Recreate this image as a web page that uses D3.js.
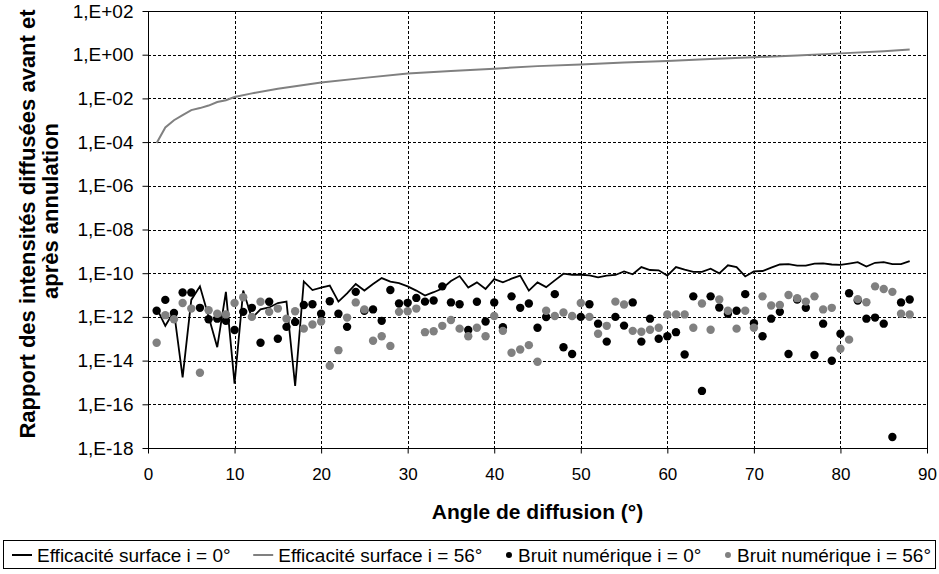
<!DOCTYPE html>
<html><head><meta charset="utf-8">
<script src="https://cdn.jsdelivr.net/npm/d3@7"></script>
<style>body{margin:0;background:#fff;} text{font-family:"Liberation Sans",Arial,sans-serif;}</style>
</head><body><svg id="c" width="939" height="574"></svg>
<script>
// ---- data ----
const angles = d3.range(1, 89);
const effSurf0 = [2.5e-12,3.9e-13,1.8e-12,1.7e-15,6.0e-12,2.5e-11,1.05e-12,4.1e-14,1.4e-11,8.9e-16,
1.6e-11,8.7e-13,2.2e-12,2.7e-12,4.3e-12,5.0e-12,6.9e-16,4.2e-11,1.7e-11,2.2e-11,
2.7e-11,5.0e-12,1.2e-11,3.2e-11,1.6e-11,3.2e-11,6.0e-11,4.1e-11,3.5e-11,2.5e-11,
1.6e-11,9.5e-12,1.35e-11,2.0e-11,4.4e-11,7.4e-11,2.2e-11,3.8e-11,1.9e-11,5.4e-11,
3.8e-11,5.6e-11,7.8e-11,1.6e-11,3.8e-11,2.3e-11,4.7e-11,9.5e-11,8.5e-11,8.5e-11,
7.9e-11,6.5e-11,7.8e-11,8.3e-11,1.2e-10,8.9e-11,1.9e-10,1.4e-10,1.35e-10,7.8e-11,
1.9e-10,1.45e-10,1.15e-10,1.15e-10,1.6e-10,9.8e-11,2.3e-10,1.9e-10,7.1e-11,1.2e-10,
1.26e-10,1.8e-10,2.5e-10,2.6e-10,2.2e-10,2.2e-10,2.75e-10,2.8e-10,2.5e-10,2.4e-10,
2.75e-10,3.2e-10,2.0e-10,3.0e-10,3.2e-10,2.6e-10,2.6e-10,3.6e-10];
const eff56Angles = [1,2,3,4,5,6,7,8,9,10,12,15,20,25,30,35,40,45,50,55,60,65,70,75,80,85,88];
const effSurf56 = [9.1e-5,4.7e-4,1.0e-3,1.7e-3,2.9e-3,3.6e-3,4.7e-3,6.8e-3,8.3e-3,1.15e-2,
1.7e-2,2.75e-2,5.4e-2,8.7e-2,0.138,0.18,0.23,0.30,0.36,0.44,0.52,0.63,0.76,0.93,1.15,1.45,1.74];
const bruit0 = [1.9e-12,6.0e-12,1.5e-12,1.3e-11,1.3e-11,2.6e-12,7.8e-13,8.3e-13,6.6e-13,2.5e-13,
1.7e-12,2.6e-12,6.6e-14,4.9e-12,1.0e-13,3.5e-13,5.9e-13,3.5e-12,3.8e-12,1.4e-12,
5.2e-12,1.4e-12,3.5e-13,1.4e-11,1.9e-12,2.2e-12,6.6e-13,1.7e-11,4.1e-12,4.4e-12,
7.4e-12,5.0e-12,5.6e-12,2.5e-11,4.6e-12,3.8e-12,2.5e-13,4.9e-12,6.2e-13,4.6e-12,
3.4e-13,8.7e-12,2.6e-12,4.1e-12,3.2e-13,9.8e-13,1.1e-11,4.1e-14,2.0e-14,1.0e-12,
3.8e-12,4.9e-13,7.4e-14,1.0e-12,4.0e-13,4.6e-12,7.4e-14,8.3e-13,1.0e-13,1.3e-13,
2.0e-13,1.9e-14,8.7e-12,4.1e-16,8.7e-12,2.7e-12,1.4e-12,1.9e-12,1.1e-11,5.1e-13,
1.3e-13,8.3e-13,1.7e-12,2.0e-14,6.3e-12,2.6e-12,1.8e-14,4.9e-13,9.8e-15,1.7e-13,
1.2e-11,5.6e-12,8.3e-13,9.3e-13,4.9e-13,3.2e-18,4.6e-12,6.3e-12];
const bruit56 = [6.6e-14,1.2e-12,7.8e-13,4.3e-12,2.4e-12,2.8e-15,2.0e-12,1.4e-12,1.3e-12,4.3e-12,
7.9e-12,1.0e-12,4.9e-12,1.7e-12,2.4e-12,8.3e-13,1.8e-12,2.9e-13,4.5e-13,6.2e-13,
5.8e-15,3.0e-14,9.3e-13,4.6e-12,2.2e-12,8.1e-14,1.3e-13,4.7e-14,1.7e-12,1.8e-12,
2.4e-12,2.0e-13,2.2e-13,3.9e-13,7.2e-13,2.9e-13,1.3e-13,3.2e-13,1.3e-13,1.1e-12,
2.3e-13,2.3e-14,3.2e-14,5.1e-14,8.9e-15,1.9e-12,1.1e-12,1.6e-12,1.1e-12,4.3e-12,
1.0e-12,1.7e-13,3.9e-13,5.0e-12,3.7e-12,2.3e-13,2.1e-13,2.6e-13,3.2e-13,1.3e-12,
1.3e-12,1.3e-12,3.2e-13,4.1e-12,2.6e-13,6.3e-12,1.9e-12,2.9e-13,1.9e-12,3.2e-13,
8.7e-12,3.3e-12,3.5e-12,1.0e-11,7.2e-12,5.0e-12,8.7e-12,2.2e-12,2.6e-12,3.5e-14,
9.1e-14,6.5e-12,4.7e-12,2.5e-11,1.9e-11,1.4e-11,1.4e-12,1.3e-12];
const xTicks = [0,10,20,30,40,50,60,70,80,90];
const yTickExps = [2,0,-2,-4,-6,-8,-10,-12,-14,-16,-18];
const yTickLabels = ["1,E+02","1,E+00","1,E-02","1,E-04","1,E-06","1,E-08","1,E-10","1,E-12","1,E-14","1,E-16","1,E-18"];
const legendLabels = ["Efficacité surface i = 0°","Efficacité surface i = 56°","Bruit numérique i = 0°","Bruit numérique i = 56°"];

// ---- layout ----
const svg = d3.select("#c");
const L = 148, R = 927, T = 11, B = 448;
const x = d3.scaleLinear().domain([0, 90]).range([L, R]);
const y = d3.scaleLog().domain([1e-18, 1e2]).range([B, T]);
const yTickVals = yTickExps.map(e => Math.pow(10, e));

// gridlines
svg.append("g").selectAll("line").data(yTickVals.slice(1, -1)).join("line")
  .attr("x1", L).attr("x2", R).attr("y1", d => Math.round(y(d)) + 0.5).attr("y2", d => Math.round(y(d)) + 0.5)
  .attr("stroke", "#000").attr("stroke-width", 1).attr("stroke-dasharray", "3,2");
svg.append("g").selectAll("line").data(xTicks.slice(1, -1)).join("line")
  .attr("x1", d => Math.round(x(d)) + 0.5).attr("x2", d => Math.round(x(d)) + 0.5).attr("y1", T).attr("y2", B)
  .attr("stroke", "#000").attr("stroke-width", 1).attr("stroke-dasharray", "3,2");

// frame
svg.append("rect").attr("x", L + 0.5).attr("y", T + 0.5).attr("width", R - L).attr("height", B - T)
  .attr("fill", "none").attr("stroke", "#000").attr("stroke-width", 1);

// axes
const yAxis = d3.axisLeft(y).tickValues(yTickVals).tickFormat((d, i) => yTickLabels[i]).tickSize(6).tickPadding(9);
const gy = svg.append("g").attr("transform", `translate(${L + 0.5},0)`).call(yAxis);
gy.select(".domain").remove();
gy.selectAll("text").attr("font-size", 19).attr("fill", "#000").style("font-family", '"Liberation Sans",Arial,sans-serif');

const xAxis = d3.axisBottom(x).tickValues(xTicks).tickSize(5).tickPadding(14);
const gx = svg.append("g").attr("transform", `translate(0,${B + 0.5})`).call(xAxis);
gx.select(".domain").remove();
gx.selectAll("text").attr("font-size", 17).attr("fill", "#000").style("font-family", '"Liberation Sans",Arial,sans-serif');

// axis titles
svg.append("text").attr("x", (L + R) / 2).attr("y", 519).attr("text-anchor", "middle")
  .attr("font-size", 21).attr("font-weight", "bold").text("Angle de diffusion (°)");
svg.append("text").attr("transform", "translate(35,224) rotate(-90)").attr("text-anchor", "middle")
  .attr("font-size", 22).attr("font-weight", "bold").text("Rapport des intensités diffusées avant et");
svg.append("text").attr("transform", "translate(58,211) rotate(-90)").attr("text-anchor", "middle")
  .attr("font-size", 22).attr("font-weight", "bold").text("après annulation");

// series
svg.append("clipPath").attr("id", "pc").append("rect")
  .attr("x", L).attr("y", T).attr("width", R - L).attr("height", B - T);
const plot = svg.append("g").attr("clip-path", "url(#pc)");
const line = d3.line().x(d => x(d[0])).y(d => y(d[1]));
plot.append("path").datum(eff56Angles.map((a, i) => [a, effSurf56[i]]))
  .attr("d", line).attr("fill", "none").attr("stroke", "#808080").attr("stroke-width", 2);
plot.append("path").datum(angles.map((a, i) => [a, effSurf0[i]]))
  .attr("d", line).attr("fill", "none").attr("stroke", "#000").attr("stroke-width", 1.8);
plot.append("g").selectAll("circle").data(angles.map((a, i) => [a, bruit0[i]])).join("circle")
  .attr("cx", d => x(d[0])).attr("cy", d => y(d[1])).attr("r", 4.2).attr("fill", "#000");
plot.append("g").selectAll("circle").data(angles.map((a, i) => [a, bruit56[i]])).join("circle")
  .attr("cx", d => x(d[0])).attr("cy", d => y(d[1])).attr("r", 4.2).attr("fill", "#808080");

// legend
const lg = svg.append("g");
lg.append("rect").attr("x", 3.5).attr("y", 540.5).attr("width", 932).attr("height", 28)
  .attr("fill", "#fff").attr("stroke", "#000").attr("stroke-width", 1);
const ly = 555;
const kinds = [["line", "#000"], ["line", "#808080"], ["dot", "#000"], ["dot", "#808080"]];
const texts = legendLabels.map(t => lg.append("text").attr("y", ly + 6.5).attr("font-size", 19).text(t));
const markW = kinds.map(k => k[0] === "line" ? 20 : 8);
const pad = 5;
const widths = texts.map((t, i) => markW[i] + pad + t.node().getComputedTextLength());
const startX = 12, endX = 931;
const gap = (endX - startX - d3.sum(widths)) / 3;
let cx = startX;
kinds.forEach((k, i) => {
  if (k[0] === "line") {
    lg.append("line").attr("x1", cx).attr("x2", cx + 20).attr("y1", ly).attr("y2", ly)
      .attr("stroke", k[1]).attr("stroke-width", 2);
  } else {
    lg.append("circle").attr("cx", cx + 4).attr("cy", ly).attr("r", 3).attr("fill", k[1]);
  }
  texts[i].attr("x", cx + markW[i] + pad);
  cx += widths[i] + gap;
});
</script></body></html>
